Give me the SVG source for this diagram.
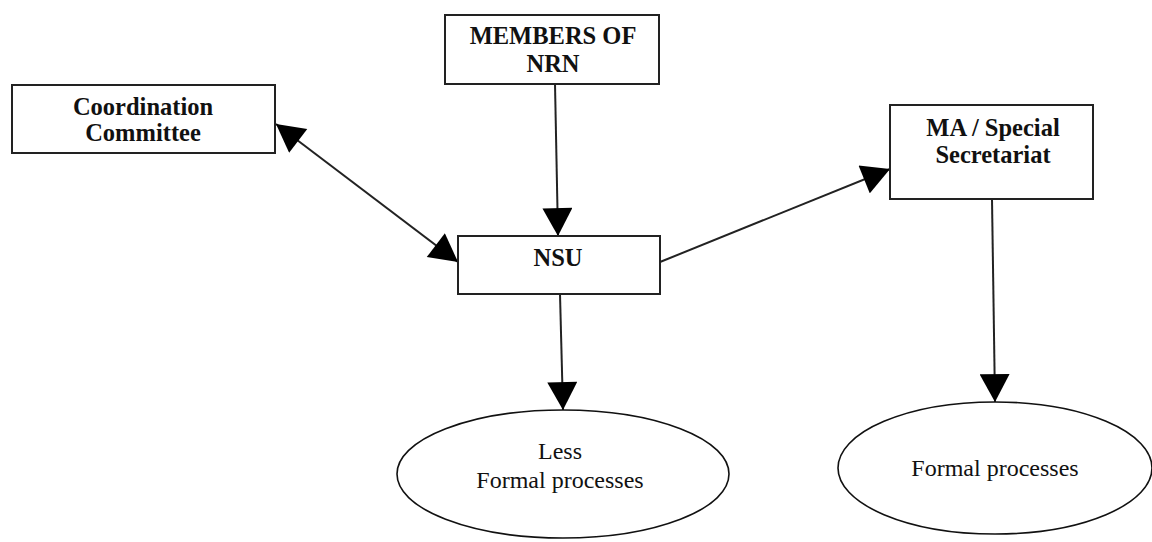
<svg xmlns="http://www.w3.org/2000/svg" width="1152" height="542" viewBox="0 0 1152 542">
<style>
.box{fill:#fff;stroke:#222;stroke-width:2}
.ell{fill:#fff;stroke:#111;stroke-width:1.6}
.b{font-family:"Liberation Serif","Times New Roman",serif;font-weight:bold;font-size:24.5px;text-anchor:middle;fill:#111}
.r{font-family:"Liberation Serif","Times New Roman",serif;font-size:24px;text-anchor:middle;fill:#111}
.ln{stroke:#222;stroke-width:2;fill:none}
</style>
<defs>
<marker id="ah" markerUnits="userSpaceOnUse" markerWidth="30" markerHeight="30" viewBox="0 0 26 28" refX="26" refY="14" orient="auto-start-reverse">
<path d="M0,0 L26,14 L0,28 Z" fill="#000"/>
</marker>
</defs>
<g id="connectors">
<line class="ln" x1="555" y1="84" x2="558" y2="236" marker-end="url(#ah)"/>
<line class="ln" x1="560" y1="294" x2="563" y2="410" marker-end="url(#ah)"/>
<line class="ln" x1="992" y1="199" x2="995" y2="402" marker-end="url(#ah)"/>
<line class="ln" x1="660" y1="262" x2="890" y2="169" marker-end="url(#ah)"/>
<line class="ln" x1="276" y1="124" x2="458" y2="262" marker-start="url(#ah)" marker-end="url(#ah)"/>
</g>
<g id="coordination">
<rect class="box" x="12" y="85" width="263" height="68"/>
<text class="b" x="143" y="115">Coordination</text>
<text class="b" x="143" y="141">Committee</text>
</g>
<g id="members">
<rect class="box" x="445" y="15" width="214" height="69"/>
<text class="b" x="553" y="44">MEMBERS OF</text>
<text class="b" x="553" y="72">NRN</text>
</g>
<g id="nsu">
<rect class="box" x="458" y="236" width="202" height="58"/>
<text class="b" x="558" y="266">NSU</text>
</g>
<g id="ma">
<rect class="box" x="890" y="105" width="203" height="94"/>
<text class="b" x="993" y="136">MA / Special</text>
<text class="b" x="993" y="163">Secretariat</text>
</g>
<g id="less-formal">
<ellipse class="ell" cx="563" cy="474" rx="166" ry="64"/>
<text class="r" x="560" y="459">Less</text>
<text class="r" x="560" y="488">Formal processes</text>
</g>
<g id="formal">
<ellipse class="ell" cx="995" cy="468" rx="157" ry="66"/>
<text class="r" x="995" y="476">Formal processes</text>
</g>
</svg>
